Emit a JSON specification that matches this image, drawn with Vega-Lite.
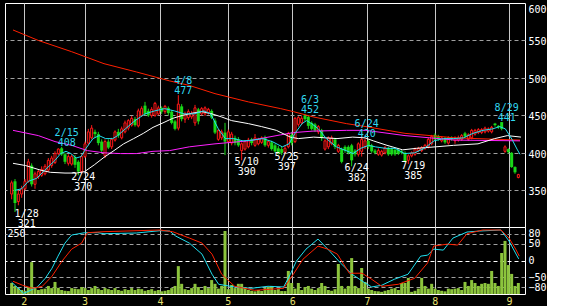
{
"$schema": "https://vega.github.io/schema/vega-lite/v6.json",
"background": "black",
"padding": {"left": 4, "top": 2, "right": 0, "bottom": 0},
"spacing": 0,
"bounds": "flush",
"config": {
  "view": {"stroke": "white", "strokeWidth": 1},
  "axis": {"labelFont": "DejaVu Sans Mono", "labelFontSize": 10, "labelColor": "white", "domain": false, "ticks": false, "tickSize": 0, "title": null, "labelPadding": 3, "minExtent": 0},
  "text": {"font": "DejaVu Sans Mono", "fontSize": 10}
},
"datasets": {
"candles": [
{"i":0,"o":345,"h":363,"l":338,"c":360},{"i":1,"o":362,"h":365,"l":321,"c":333},{"i":2,"o":335,"h":350,"l":330,"c":345},{"i":3,"o":345,"h":356,"l":340,"c":352},{"i":4,"o":352,"h":365,"l":350,"c":362},
{"i":5,"o":362,"h":392,"l":360,"c":388},{"i":6,"o":383,"h":386,"l":355,"c":358},{"i":7,"o":358,"h":375,"l":352,"c":372},{"i":8,"o":368,"h":378,"l":365,"c":375},{"i":9,"o":370,"h":382,"l":368,"c":378},
{"i":10,"o":372,"h":385,"l":370,"c":382},{"i":11,"o":377,"h":393,"l":375,"c":390},{"i":12,"o":383,"h":396,"l":380,"c":393},{"i":13,"o":387,"h":402,"l":385,"c":399},{"i":14,"o":399,"h":406,"l":397,"c":405},
{"i":15,"o":406,"h":408,"l":396,"c":398},{"i":16,"o":398,"h":400,"l":385,"c":388},{"i":17,"o":386,"h":398,"l":383,"c":395},{"i":18,"o":385,"h":398,"l":383,"c":395},{"i":19,"o":394,"h":397,"l":380,"c":384},
{"i":20,"o":388,"h":390,"l":370,"c":375},{"i":21,"o":375,"h":398,"l":372,"c":395},{"i":22,"o":395,"h":415,"l":393,"c":412},{"i":23,"o":413,"h":432,"l":410,"c":428},{"i":24,"o":420,"h":437,"l":418,"c":433},
{"i":25,"o":428,"h":431,"l":420,"c":425},{"i":26,"o":425,"h":428,"l":410,"c":413},{"i":27,"o":415,"h":418,"l":400,"c":403},{"i":28,"o":396,"h":418,"l":393,"c":415},{"i":29,"o":415,"h":418,"l":405,"c":407},
{"i":30,"o":408,"h":420,"l":405,"c":418},{"i":31,"o":417,"h":430,"l":415,"c":428},{"i":32,"o":428,"h":432,"l":420,"c":423},{"i":33,"o":420,"h":435,"l":418,"c":432},{"i":34,"o":428,"h":443,"l":426,"c":440},
{"i":35,"o":433,"h":445,"l":430,"c":443},{"i":36,"o":437,"h":449,"l":435,"c":446},{"i":37,"o":445,"h":448,"l":435,"c":437},{"i":38,"o":436,"h":459,"l":434,"c":456},{"i":39,"o":450,"h":462,"l":448,"c":459},
{"i":40,"o":463,"h":468,"l":450,"c":452},{"i":41,"o":456,"h":459,"l":448,"c":450},{"i":42,"o":450,"h":461,"l":447,"c":458},{"i":43,"o":450,"h":468,"l":448,"c":466},{"i":44,"o":452,"h":463,"l":450,"c":460},
{"i":45,"o":460,"h":462,"l":452,"c":455},{"i":46,"o":455,"h":464,"l":452,"c":462},{"i":47,"o":460,"h":462,"l":450,"c":453},{"i":48,"o":455,"h":457,"l":438,"c":440},{"i":49,"o":442,"h":444,"l":430,"c":432},
{"i":50,"o":433,"h":477,"l":430,"c":465},{"i":51,"o":462,"h":465,"l":442,"c":445},{"i":52,"o":445,"h":455,"l":440,"c":452},{"i":53,"o":447,"h":458,"l":444,"c":455},{"i":54,"o":448,"h":456,"l":445,"c":453},
{"i":55,"o":440,"h":464,"l":436,"c":460},{"i":56,"o":458,"h":460,"l":438,"c":442},{"i":57,"o":452,"h":461,"l":450,"c":459},{"i":58,"o":452,"h":462,"l":449,"c":460},{"i":59,"o":453,"h":460,"l":451,"c":458},
{"i":60,"o":456,"h":458,"l":445,"c":447},{"i":61,"o":443,"h":446,"l":425,"c":427},{"i":62,"o":418,"h":432,"l":416,"c":430},{"i":63,"o":420,"h":431,"l":417,"c":428},{"i":64,"o":427,"h":440,"l":397,"c":415},
{"i":65,"o":415,"h":431,"l":413,"c":428},{"i":66,"o":413,"h":428,"l":410,"c":425},{"i":67,"o":420,"h":423,"l":410,"c":413},{"i":68,"o":418,"h":421,"l":408,"c":410},{"i":69,"o":403,"h":414,"l":390,"c":412},
{"i":70,"o":405,"h":417,"l":403,"c":415},{"i":71,"o":408,"h":420,"l":406,"c":417},{"i":72,"o":418,"h":420,"l":410,"c":413},{"i":73,"o":410,"h":425,"l":408,"c":420},{"i":74,"o":412,"h":420,"l":410,"c":418},
{"i":75,"o":414,"h":422,"l":412,"c":420},{"i":76,"o":420,"h":423,"l":408,"c":410},{"i":77,"o":410,"h":417,"l":407,"c":415},{"i":78,"o":414,"h":416,"l":403,"c":405},{"i":79,"o":410,"h":412,"l":400,"c":402},
{"i":80,"o":406,"h":409,"l":398,"c":400},{"i":81,"o":405,"h":408,"l":397,"c":400},{"i":82,"o":401,"h":410,"l":399,"c":406},{"i":83,"o":408,"h":428,"l":406,"c":426},{"i":84,"o":424,"h":428,"l":410,"c":413},
{"i":85,"o":415,"h":448,"l":413,"c":446},{"i":86,"o":438,"h":449,"l":435,"c":447},{"i":87,"o":440,"h":449,"l":437,"c":446},{"i":88,"o":450,"h":452,"l":442,"c":445},{"i":89,"o":448,"h":450,"l":432,"c":436},
{"i":90,"o":440,"h":442,"l":430,"c":432},{"i":91,"o":438,"h":440,"l":428,"c":430},{"i":92,"o":428,"h":437,"l":425,"c":435},{"i":93,"o":430,"h":432,"l":416,"c":420},{"i":94,"o":405,"h":418,"l":403,"c":416},
{"i":95,"o":408,"h":422,"l":405,"c":420},{"i":96,"o":412,"h":423,"l":410,"c":420},{"i":97,"o":418,"h":420,"l":405,"c":408},{"i":98,"o":402,"h":412,"l":400,"c":410},{"i":99,"o":405,"h":407,"l":386,"c":388},
{"i":100,"o":408,"h":410,"l":400,"c":403},{"i":101,"o":408,"h":410,"l":398,"c":400},{"i":102,"o":410,"h":412,"l":382,"c":390},{"i":103,"o":403,"h":405,"l":395,"c":398},{"i":104,"o":398,"h":414,"l":395,"c":412},
{"i":105,"o":402,"h":420,"l":395,"c":418},{"i":106,"o":408,"h":419,"l":405,"c":416},{"i":107,"o":416,"h":418,"l":405,"c":408},{"i":108,"o":410,"h":412,"l":400,"c":402},{"i":109,"o":403,"h":405,"l":398,"c":400},
{"i":110,"o":398,"h":406,"l":396,"c":403},{"i":111,"o":397,"h":404,"l":395,"c":402},{"i":112,"o":400,"h":409,"l":398,"c":407},{"i":113,"o":406,"h":408,"l":396,"c":398},{"i":114,"o":405,"h":407,"l":396,"c":398},
{"i":115,"o":404,"h":406,"l":396,"c":398},{"i":116,"o":404,"h":406,"l":397,"c":399},{"i":117,"o":402,"h":404,"l":398,"c":400},{"i":118,"o":400,"h":402,"l":387,"c":389},{"i":119,"o":390,"h":398,"l":385,"c":396},
{"i":120,"o":396,"h":402,"l":394,"c":400},{"i":121,"o":398,"h":407,"l":396,"c":405},{"i":122,"o":403,"h":408,"l":401,"c":406},{"i":123,"o":403,"h":409,"l":401,"c":407},{"i":124,"o":406,"h":412,"l":404,"c":410},
{"i":125,"o":408,"h":420,"l":406,"c":418},{"i":126,"o":412,"h":424,"l":410,"c":422},{"i":127,"o":424,"h":426,"l":416,"c":418},{"i":128,"o":422,"h":424,"l":416,"c":418},{"i":129,"o":416,"h":422,"l":414,"c":420},
{"i":130,"o":419,"h":421,"l":412,"c":414},{"i":131,"o":413,"h":422,"l":411,"c":420},{"i":132,"o":420,"h":422,"l":416,"c":418},{"i":133,"o":416,"h":422,"l":412,"c":420},{"i":134,"o":417,"h":423,"l":415,"c":420},
{"i":135,"o":418,"h":425,"l":416,"c":423},{"i":136,"o":426,"h":428,"l":420,"c":422},{"i":137,"o":418,"h":426,"l":416,"c":424},{"i":138,"o":420,"h":432,"l":418,"c":430},{"i":139,"o":425,"h":432,"l":423,"c":430},
{"i":140,"o":427,"h":433,"l":425,"c":431},{"i":141,"o":427,"h":433,"l":425,"c":431},{"i":142,"o":428,"h":435,"l":426,"c":433},{"i":143,"o":429,"h":434,"l":427,"c":432},{"i":144,"o":428,"h":436,"l":426,"c":434},
{"i":145,"o":439,"h":440,"l":435,"c":437},{"i":146,"o":436,"h":437,"l":432,"c":434},{"i":147,"o":441,"h":441,"l":430,"c":432},{"i":148,"o":402,"h":410,"l":400,"c":408},{"i":149,"o":405,"h":406,"l":399,"c":401},
{"i":150,"o":400,"h":401,"l":380,"c":381},{"i":151,"o":381,"h":382,"l":372,"c":374},{"i":152,"o":367,"h":372,"l":366,"c":371}
],
"ma": [
{"s":"d","i":0.4,"v":564},{"s":"d","i":8,"v":550},{"s":"d","i":18,"v":535},{"s":"d","i":27.7,"v":519},{"s":"d","i":37.4,"v":508},{"s":"d","i":47.4,"v":496},{"s":"d","i":53.3,"v":490},{"s":"d","i":61,"v":479},{"s":"d","i":71,"v":468},{"s":"d","i":80.7,"v":459},{"s":"d","i":84.5,"v":455},{"s":"d","i":90.4,"v":448},{"s":"d","i":100.4,"v":439},{"s":"d","i":106.3,"v":435},{"s":"d","i":118,"v":426},{"s":"d","i":133,"v":420},{"s":"d","i":152.5,"v":417},
{"s":"c","i":0.4,"v":430},{"s":"c","i":8,"v":423},{"s":"c","i":13,"v":415},{"s":"c","i":18,"v":410},{"s":"c","i":22.7,"v":403},{"s":"c","i":27.7,"v":400},{"s":"c","i":32.7,"v":399},{"s":"c","i":37.4,"v":399},{"s":"c","i":42.4,"v":402},{"s":"c","i":47.4,"v":403},{"s":"c","i":53.3,"v":408},{"s":"c","i":61,"v":412},{"s":"c","i":71,"v":416},{"s":"c","i":80.7,"v":424},{"s":"c","i":84.5,"v":427},{"s":"c","i":90.4,"v":429},{"s":"c","i":100.4,"v":430},{"s":"c","i":106.3,"v":430},{"s":"c","i":118,"v":423},{"s":"c","i":133,"v":417},{"s":"c","i":152.5,"v":416},
{"s":"b","i":0.4,"v":386},{"s":"b","i":4.2,"v":383},{"s":"b","i":8.6,"v":377},{"s":"b","i":11.6,"v":374},{"s":"b","i":16,"v":373},{"s":"b","i":19.5,"v":373},{"s":"b","i":21.9,"v":375},{"s":"b","i":24.8,"v":384},{"s":"b","i":27.7,"v":394},{"s":"b","i":30.7,"v":403},{"s":"b","i":33.6,"v":412},{"s":"b","i":36.6,"v":419},{"s":"b","i":39.5,"v":426},{"s":"b","i":42.4,"v":434},{"s":"b","i":45.4,"v":440},{"s":"b","i":48.3,"v":446},{"s":"b","i":51.3,"v":450},{"s":"b","i":54.2,"v":453},{"s":"b","i":57.1,"v":455},{"s":"b","i":60.1,"v":452},{"s":"b","i":62.9,"v":448},{"s":"b","i":66,"v":443},{"s":"b","i":71,"v":439},{"s":"b","i":75,"v":435},{"s":"b","i":79.4,"v":430},{"s":"b","i":83.6,"v":421},{"s":"b","i":86,"v":419},{"s":"b","i":90.6,"v":421},{"s":"b","i":97.6,"v":419},{"s":"b","i":102.3,"v":421},{"s":"b","i":106,"v":420},{"s":"b","i":108.5,"v":416},{"s":"b","i":112.6,"v":410},{"s":"b","i":117.3,"v":404},{"s":"b","i":121.4,"v":406},{"s":"b","i":127.2,"v":408},{"s":"b","i":132.6,"v":410},{"s":"b","i":139.9,"v":412},{"s":"b","i":144.9,"v":419},{"s":"b","i":148.7,"v":423},{"s":"b","i":152.8,"v":421},
{"s":"a","i":1,"v":350},{"s":"a","i":3,"v":352},{"s":"a","i":5,"v":362},{"s":"a","i":7.5,"v":366},{"s":"a","i":10,"v":377},{"s":"a","i":13,"v":390},{"s":"a","i":14.7,"v":399},{"s":"a","i":16.3,"v":402},{"s":"a","i":17.8,"v":399},{"s":"a","i":19.3,"v":393},{"s":"a","i":20.8,"v":395},{"s":"a","i":22.3,"v":406},{"s":"a","i":24.4,"v":419},{"s":"a","i":26.2,"v":423},{"s":"a","i":28.2,"v":419},{"s":"a","i":30.3,"v":419},{"s":"a","i":31.8,"v":423},{"s":"a","i":34.1,"v":432},{"s":"a","i":37,"v":443},{"s":"a","i":40,"v":452},{"s":"a","i":42.9,"v":456},{"s":"a","i":45.9,"v":459},{"s":"a","i":48.8,"v":456},{"s":"a","i":51.8,"v":452},{"s":"a","i":54.7,"v":452},{"s":"a","i":57.6,"v":456},{"s":"a","i":59.7,"v":452},{"s":"a","i":62,"v":432},{"s":"a","i":64.1,"v":419},{"s":"a","i":66.5,"v":419},{"s":"a","i":69.4,"v":416},{"s":"a","i":72.4,"v":417},{"s":"a","i":75.3,"v":419},{"s":"a","i":78.2,"v":415},{"s":"a","i":81.2,"v":408},{"s":"a","i":83.2,"v":412},{"s":"a","i":85,"v":426},{"s":"a","i":87.1,"v":439},{"s":"a","i":88.5,"v":443},{"s":"a","i":90,"v":439},{"s":"a","i":92,"v":432},{"s":"a","i":94.4,"v":419},{"s":"a","i":97.4,"v":408},{"s":"a","i":100.3,"v":403},{"s":"a","i":102.4,"v":399},{"s":"a","i":104.7,"v":406},{"s":"a","i":107.1,"v":410},{"s":"a","i":109.1,"v":408},{"s":"a","i":112.1,"v":406},{"s":"a","i":115,"v":406},{"s":"a","i":117.9,"v":399},{"s":"a","i":120.9,"v":400},{"s":"a","i":123.8,"v":406},{"s":"a","i":126.7,"v":416},{"s":"a","i":129.6,"v":419},{"s":"a","i":132.6,"v":419},{"s":"a","i":135.5,"v":420},{"s":"a","i":138.4,"v":426},{"s":"a","i":141.4,"v":430},{"s":"a","i":144.3,"v":432},{"s":"a","i":146.4,"v":435},{"s":"a","i":148.1,"v":432},{"s":"a","i":150.1,"v":418},{"s":"a","i":151.6,"v":405},{"s":"a","i":152.5,"v":398}
],
"labels": [
{"i":3,"p":321,"d":"1/28","k":"low"},{"i":15,"p":408,"d":"2/15","k":"high"},{"i":20,"p":370,"d":"2/24","k":"low"},{"i":50,"p":477,"d":"4/8","k":"high"},{"i":69,"p":390,"d":"5/10","k":"low"},{"i":81,"p":397,"d":"5/25","k":"low"},{"i":88,"p":452,"d":"6/3","k":"high"},{"i":102,"p":382,"d":"6/24","k":"low"},{"i":105,"p":420,"d":"6/24","k":"high"},{"i":119,"p":385,"d":"7/19","k":"low"},{"i":147,"p":441,"d":"8/29","k":"high"}
],
"vol": [
{"i":0,"v":41},{"i":1,"v":30},{"i":2,"v":22},{"i":3,"v":15},{"i":4,"v":12},{"i":5,"v":25},{"i":6,"v":119},{"i":7,"v":22},{"i":8,"v":15},{"i":9,"v":18},
{"i":10,"v":20},{"i":11,"v":30},{"i":12,"v":22},{"i":13,"v":45},{"i":14,"v":23},{"i":15,"v":15},{"i":16,"v":12},{"i":17,"v":11},{"i":18,"v":22},{"i":19,"v":20},
{"i":20,"v":18},{"i":21,"v":26},{"i":22,"v":22},{"i":23,"v":15},{"i":24,"v":22},{"i":25,"v":30},{"i":26,"v":20},{"i":27,"v":15},{"i":28,"v":22},{"i":29,"v":18},
{"i":30,"v":15},{"i":31,"v":22},{"i":32,"v":15},{"i":33,"v":12},{"i":34,"v":18},{"i":35,"v":15},{"i":36,"v":22},{"i":37,"v":15},{"i":38,"v":20},{"i":39,"v":18},
{"i":40,"v":12},{"i":41,"v":15},{"i":42,"v":18},{"i":43,"v":12},{"i":44,"v":15},{"i":45,"v":10},{"i":46,"v":12},{"i":47,"v":15},{"i":48,"v":22},{"i":49,"v":30},
{"i":50,"v":104},{"i":51,"v":38},{"i":52,"v":18},{"i":53,"v":15},{"i":54,"v":22},{"i":55,"v":38},{"i":56,"v":26},{"i":57,"v":15},{"i":58,"v":30},{"i":59,"v":22},
{"i":60,"v":52},{"i":61,"v":38},{"i":62,"v":20},{"i":63,"v":30},{"i":64,"v":235},{"i":65,"v":18},{"i":66,"v":34},{"i":67,"v":22},{"i":68,"v":38},{"i":69,"v":38},
{"i":70,"v":26},{"i":71,"v":15},{"i":72,"v":12},{"i":73,"v":10},{"i":74,"v":15},{"i":75,"v":11},{"i":76,"v":22},{"i":77,"v":26},{"i":78,"v":30},{"i":79,"v":15},
{"i":80,"v":18},{"i":81,"v":11},{"i":82,"v":11},{"i":83,"v":86},{"i":84,"v":41},{"i":85,"v":20},{"i":86,"v":41},{"i":87,"v":15},{"i":88,"v":26},{"i":89,"v":30},
{"i":90,"v":20},{"i":91,"v":15},{"i":92,"v":22},{"i":93,"v":41},{"i":94,"v":30},{"i":95,"v":15},{"i":96,"v":12},{"i":97,"v":18},{"i":98,"v":112},{"i":99,"v":30},
{"i":100,"v":20},{"i":101,"v":30},{"i":102,"v":134},{"i":103,"v":30},{"i":104,"v":22},{"i":105,"v":97},{"i":106,"v":45},{"i":107,"v":20},{"i":108,"v":15},{"i":109,"v":11},
{"i":110,"v":10},{"i":111,"v":8},{"i":112,"v":12},{"i":113,"v":15},{"i":114,"v":20},{"i":115,"v":22},{"i":116,"v":15},{"i":117,"v":41},{"i":118,"v":41},{"i":119,"v":60},
{"i":120,"v":8},{"i":121,"v":12},{"i":122,"v":20},{"i":123,"v":60},{"i":124,"v":30},{"i":125,"v":20},{"i":126,"v":38},{"i":127,"v":20},{"i":128,"v":15},{"i":129,"v":12},
{"i":130,"v":10},{"i":131,"v":20},{"i":132,"v":18},{"i":133,"v":20},{"i":134,"v":22},{"i":135,"v":15},{"i":136,"v":45},{"i":137,"v":30},{"i":138,"v":52},{"i":139,"v":41},
{"i":140,"v":30},{"i":141,"v":38},{"i":142,"v":41},{"i":143,"v":38},{"i":144,"v":86},{"i":145,"v":41},{"i":146,"v":30},{"i":147,"v":153},{"i":148,"v":198},{"i":149,"v":108},
{"i":150,"v":75},{"i":151,"v":30},{"i":152,"v":41}
],
"osc": [
{"s":"k","i":0,"v":-65},{"s":"k","i":1.3,"v":-77},{"s":"k","i":3.6,"v":-98},{"s":"k","i":5.7,"v":-89},{"s":"k","i":7.7,"v":-79},{"s":"k","i":10.1,"v":-53},{"s":"k","i":12.1,"v":-23},{"s":"k","i":13.9,"v":13},{"s":"k","i":16,"v":52},{"s":"k","i":18,"v":76},{"s":"k","i":21.9,"v":83},{"s":"k","i":25.7,"v":83},{"s":"k","i":27.7,"v":80},{"s":"k","i":37.4,"v":82},{"s":"k","i":44.5,"v":89},{"s":"k","i":47.4,"v":88},{"s":"k","i":49.2,"v":73},{"s":"k","i":53.3,"v":52},{"s":"k","i":57.1,"v":19},{"s":"k","i":60.1,"v":-41},{"s":"k","i":62.1,"v":-71},{"s":"k","i":66.9,"v":-79},{"s":"k","i":71.9,"v":-83},{"s":"k","i":76.9,"v":-77},{"s":"k","i":81.6,"v":-79},{"s":"k","i":83.6,"v":-41},{"s":"k","i":85.4,"v":-2},{"s":"k","i":88.3,"v":34},{"s":"k","i":91.9,"v":64},{"s":"k","i":95.4,"v":28},{"s":"k","i":98.6,"v":-7},{"s":"k","i":102.1,"v":-41},{"s":"k","i":105.7,"v":-65},{"s":"k","i":108,"v":-79},{"s":"k","i":111,"v":-74},{"s":"k","i":114.8,"v":-56},{"s":"k","i":118.9,"v":-41},{"s":"k","i":122.7,"v":13},{"s":"k","i":124.8,"v":16},{"s":"k","i":126.6,"v":34},{"s":"k","i":129.5,"v":31},{"s":"k","i":132.4,"v":67},{"s":"k","i":136.6,"v":85},{"s":"k","i":140.4,"v":88},{"s":"k","i":146.8,"v":91},{"s":"k","i":149.2,"v":58},{"s":"k","i":152.1,"v":5},
{"s":"d","i":0.4,"v":-62},{"s":"d","i":3.3,"v":-74},{"s":"d","i":6.3,"v":-83},{"s":"d","i":9.2,"v":-77},{"s":"d","i":12.1,"v":-47},{"s":"d","i":15.1,"v":-2},{"s":"d","i":18,"v":34},{"s":"d","i":21,"v":52},{"s":"d","i":22.7,"v":83},{"s":"d","i":27.7,"v":86},{"s":"d","i":44.5,"v":91},{"s":"d","i":48.3,"v":86},{"s":"d","i":53.3,"v":67},{"s":"d","i":57.1,"v":52},{"s":"d","i":60.1,"v":19},{"s":"d","i":63,"v":-41},{"s":"d","i":66.9,"v":-77},{"s":"d","i":72.9,"v":-89},{"s":"d","i":81.6,"v":-83},{"s":"d","i":84.5,"v":-41},{"s":"d","i":87.4,"v":4},{"s":"d","i":91.9,"v":43},{"s":"d","i":94.8,"v":34},{"s":"d","i":97.7,"v":19},{"s":"d","i":101.3,"v":-38},{"s":"d","i":105.1,"v":-38},{"s":"d","i":108,"v":-56},{"s":"d","i":111,"v":-77},{"s":"d","i":116,"v":-71},{"s":"d","i":120.9,"v":-53},{"s":"d","i":124.8,"v":-7},{"s":"d","i":126.6,"v":43},{"s":"d","i":130.8,"v":49},{"s":"d","i":133.8,"v":46},{"s":"d","i":136.6,"v":80},{"s":"d","i":141.3,"v":91},{"s":"d","i":146.8,"v":91},{"s":"d","i":149.2,"v":67},{"s":"d","i":151.2,"v":34},{"s":"d","i":152.3,"v":13}
]
},
"vconcat": [
{
 "width": 520, "height": 224,
 "layer": [
  {"data": {"name": "candles"}, "mark": {"type": "rule", "strokeWidth": 1},
   "encoding": {
    "x": {"field": "i", "type": "quantitative", "scale": {"domain": [-0.5, 152.5], "nice": false, "zero": false},
          "axis": {"values": [3.62, 21.85, 44.5, 64.8, 84.2, 106.6, 126.9, 149.2], "labels": false, "labelPadding": 0, "maxExtent": 0, "grid": true, "gridColor": "#c8c8c8", "gridWidth": 1}},
    "y": {"field": "l", "type": "quantitative", "scale": {"domain": [301, 600], "nice": false, "zero": false},
          "axis": {"orient": "right", "values": [350, 400, 450, 500, 550, 600], "grid": true, "gridDash": [4, 3], "gridColor": "#a0a0a0", "gridOpacity": {"condition": {"test": "datum.value == 600", "value": 0}, "value": 1}, "labelFlush": true, "labelOffset": 1.5}},
    "y2": {"field": "h"},
    "color": {"condition": {"test": "datum.c >= datum.o", "value": "#ff1818"}, "value": "#18d818"}
   }},
  {"data": {"name": "candles"}, "transform": [{"filter": "datum.c < datum.o"}],
   "mark": {"type": "bar", "orient": "vertical", "size": 3, "color": "#18d818"},
   "encoding": {"x": {"field": "i", "type": "quantitative"}, "y": {"field": "o", "type": "quantitative"}, "y2": {"field": "c"}}},
  {"data": {"name": "candles"}, "transform": [{"filter": "datum.c >= datum.o"}],
   "mark": {"type": "bar", "orient": "vertical", "size": 2, "fill": "black", "stroke": "#ff1818", "strokeWidth": 1},
   "encoding": {"x": {"field": "i", "type": "quantitative"}, "y": {"field": "o", "type": "quantitative"}, "y2": {"field": "c"}}},
  {"data": {"name": "ma"}, "mark": {"type": "line", "strokeWidth": 1},
   "encoding": {"x": {"field": "i", "type": "quantitative"}, "y": {"field": "v", "type": "quantitative"},
    "color": {"field": "s", "type": "nominal", "scale": {"domain": ["a", "b", "c", "d"], "range": ["#20e0f0", "#ffffff", "#ff20ff", "#ff2000"]}, "legend": null}}},
  {"data": {"name": "labels"}, "transform": [{"filter": "datum.k == 'high'"}],
   "mark": {"type": "text", "color": "#30d8f0", "align": "center", "baseline": "middle", "dx": 5, "dy": -14},
   "encoding": {"x": {"field": "i", "type": "quantitative"}, "y": {"field": "p", "type": "quantitative"}, "text": {"field": "d"}}},
  {"data": {"name": "labels"}, "transform": [{"filter": "datum.k == 'high'"}],
   "mark": {"type": "text", "color": "#30d8f0", "align": "center", "baseline": "middle", "dx": 5, "dy": -4},
   "encoding": {"x": {"field": "i", "type": "quantitative"}, "y": {"field": "p", "type": "quantitative"}, "text": {"field": "p"}}},
  {"data": {"name": "labels"}, "transform": [{"filter": "datum.k == 'low'"}],
   "mark": {"type": "text", "color": "white", "align": "center", "baseline": "middle", "dx": 5, "dy": 2},
   "encoding": {"x": {"field": "i", "type": "quantitative"}, "y": {"field": "p", "type": "quantitative"}, "text": {"field": "d"}}},
  {"data": {"name": "labels"}, "transform": [{"filter": "datum.k == 'low'"}],
   "mark": {"type": "text", "color": "white", "align": "center", "baseline": "middle", "dx": 5, "dy": 12},
   "encoding": {"x": {"field": "i", "type": "quantitative"}, "y": {"field": "p", "type": "quantitative"}, "text": {"field": "p"}}}
 ]
},
{
 "width": 520, "height": 67,
 "layer": [
  {"data": {"name": "vol"}, "mark": {"type": "bar", "orient": "vertical", "size": 3, "color": "#8cc43c"},
   "encoding": {
    "x": {"field": "i", "type": "quantitative", "scale": {"domain": [-0.5, 152.5], "nice": false, "zero": false},
          "axis": {"values": [3.62, 21.85, 44.5, 64.8, 84.2, 106.6, 126.9, 149.2], "grid": true, "gridColor": "#c8c8c8", "labelColor": "#e8e070", "labelPadding": 2,
                   "labelExpr": "datum.value < 10 ? '2' : datum.value < 30 ? '3' : datum.value < 50 ? '4' : datum.value < 70 ? '5' : datum.value < 90 ? '6' : datum.value < 110 ? '7' : datum.value < 130 ? '8' : '9'"}},
    "y": {"field": "v", "type": "quantitative", "scale": {"domain": [0, 250], "nice": false},
          "axis": {"orient": "left", "values": [250], "grid": false, "labelAlign": "left", "labelBaseline": "top", "labelPadding": -2, "labelOffset": 1, "minExtent": 0, "maxExtent": 0}}
   }},
  {"data": {"name": "osc"}, "mark": {"type": "line", "strokeWidth": 1},
   "encoding": {
    "x": {"field": "i", "type": "quantitative", "scale": {"domain": [-0.5, 152.5], "nice": false, "zero": false}},
    "y": {"field": "v", "type": "quantitative", "scale": {"domain": [-100, 100], "nice": false},
          "axis": {"orient": "right", "values": [80, 50, 0, -50, -80], "grid": true, "gridDash": [4, 3], "gridColor": {"condition": {"test": "datum.value == 0", "value": "#ffffff"}, "value": "#a0a0a0"}}},
    "color": {"field": "s", "type": "nominal", "scale": {"domain": ["k", "d"], "range": ["#20e0f0", "#ff2000"]}, "legend": null}
   }}
 ],
 "resolve": {"scale": {"y": "independent"}, "axis": {"y": "independent"}}
}
]
}
